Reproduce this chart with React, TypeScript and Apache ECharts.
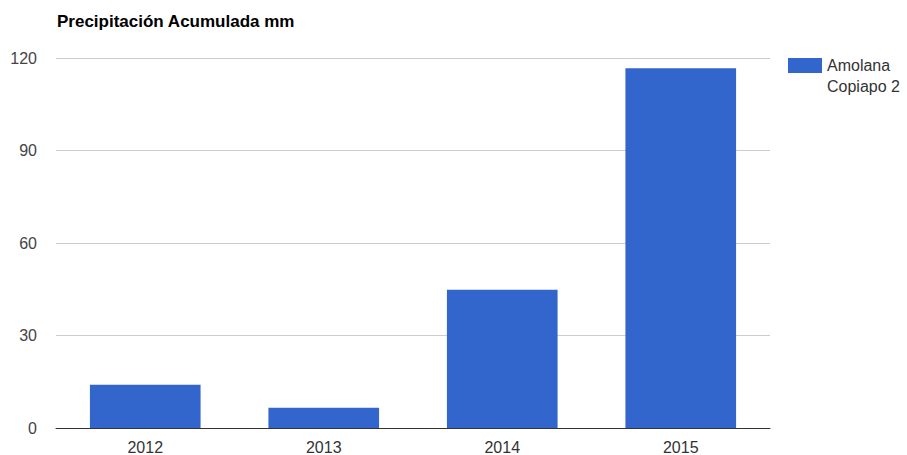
import React, { useEffect, useRef } from "react";
import * as echarts from "echarts";

const categories = ["2012", "2013", "2014", "2015"];
const values = [14, 6.6, 44.8, 116.7];
const seriesName = "Amolana Copiapo 2";
const legendLines = ["Amolana", "Copiapo 2"];
const titleText = "Precipitación Acumulada mm";

export default function App() {
  const ref = useRef<HTMLDivElement>(null);
  useEffect(() => {
    if (!ref.current) return;
    const chart = echarts.init(ref.current, undefined, { renderer: "svg" });
    const font = "Arial, 'Liberation Sans', sans-serif";
    chart.setOption({
      animation: false,
      backgroundColor: "#ffffff",
      title: {
        text: titleText,
        left: 57,
        top: 13,
        padding: 0,
        textStyle: { fontFamily: font, fontSize: 17, fontWeight: "bold", color: "#000" },
      },
      legend: {
        left: 788,
        top: 34,
        padding: 0,
        itemWidth: 34,
        itemHeight: 15,
        itemGap: 5,
        icon: "rect",
        orient: "vertical",
        formatter: () => " \n" + legendLines.join("\n"),
        textStyle: {
          fontFamily: font,
          fontSize: 16,
          color: "#333",
          lineHeight: 21,
        },
      },
      grid: { left: 56, right: 137, top: 58, bottom: 27, containLabel: false },
      xAxis: {
        type: "category",
        data: categories,
        axisLine: { lineStyle: { color: "#333", width: 1 } },
        axisTick: { show: false },
        axisLabel: { fontFamily: font, fontSize: 16, color: "#333", margin: 11 },
      },
      yAxis: {
        type: "value",
        min: 0,
        max: 120,
        interval: 30,
        axisLine: { show: false },
        axisTick: { show: false },
        splitLine: { lineStyle: { color: "#cccccc" } },
        axisLabel: { fontFamily: font, fontSize: 16, color: "#444", margin: 19 },
      },
      series: [
        {
          name: seriesName,
          type: "bar",
          data: values,
          barCategoryGap: "38%",
          itemStyle: { color: "#3366cc" },
        },
      ],
    });
    return () => chart.dispose();
  }, []);
  return <div ref={ref} style={{ width: 907, height: 455, position: "absolute", left: 0, top: 0 }} />;
}
